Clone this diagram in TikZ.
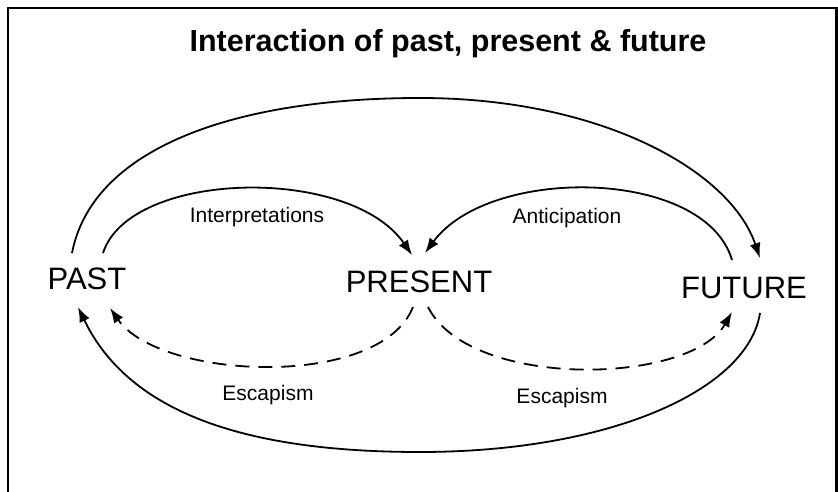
\documentclass[tikz,border=0pt]{standalone}
\usepackage{fontspec}
\setmainfont{Liberation Sans}
\usetikzlibrary{arrows.meta}
\begin{document}
\begin{tikzpicture}[x=1pt,y=-1pt,
  big/.style={font=\fontsize{31}{31}\selectfont, anchor=base, inner sep=0pt},
  small/.style={font=\fontsize{21}{21}\selectfont, anchor=base, inner sep=0pt},
  conn/.style={line width=1.8pt, -{Latex[length=15pt,width=11pt]}},
  dconn/.style={conn, dash pattern=on 14pt off 9pt}]
\useasboundingbox (0,0) rectangle (838,492);
\draw[line width=2.6pt] (8,493) -- (8,8) -- (836.5,8) -- (836.5,493);
\node[anchor=base, inner sep=0pt, font=\fontsize{30.5}{30.5}\selectfont\bfseries] (title) at (448,52) {Interaction of past, present \& future};
\node[big] (past) at (87,289) {PAST};
\node[big] (pres) at (419,292) {PRESENT};
\node[big] (fut) at (744,298) {FUTURE};
\node[small] (l1) at (257,222) {Interpretations};
\node[small] (l2) at (567,223) {Anticipation};
\node[small] (l3) at (268,400) {Escapism};
\node[small] (l4) at (562,403) {Escapism};
% big top arc
\draw[conn] ([shift={(-15,-36)}]past.base) .. controls (92,150) and (230,98) .. (420,98)
  .. controls (600,98) and (730,170) .. ([shift={(16,-40)}]fut.base);
% interpretations
\draw[conn] ([shift={(16,-36)}]past.base) .. controls (130,170) and (350,165) .. ([shift={(-7,-37)}]pres.base);
% anticipation
\draw[conn] ([shift={(-12,-38)}]fut.base) .. controls (705,168) and (490,165) .. ([shift={(6,-39)}]pres.base);
% escapism left
\draw[dconn] ([shift={(-6,15)}]pres.base) .. controls (380,390) and (160,380) .. ([shift={(23,19)}]past.base);
% escapism right
\draw[dconn] ([shift={(9,15)}]pres.base) .. controls (470,390) and (690,385) .. ([shift={(-12,14)}]fut.base);
% big bottom arc
\draw[conn] ([shift={(16,15)}]fut.base) .. controls (748,390) and (610,452) .. (420,452)
  .. controls (250,452) and (130,415) .. ([shift={(-9,18)}]past.base);
\end{tikzpicture}
\end{document}
